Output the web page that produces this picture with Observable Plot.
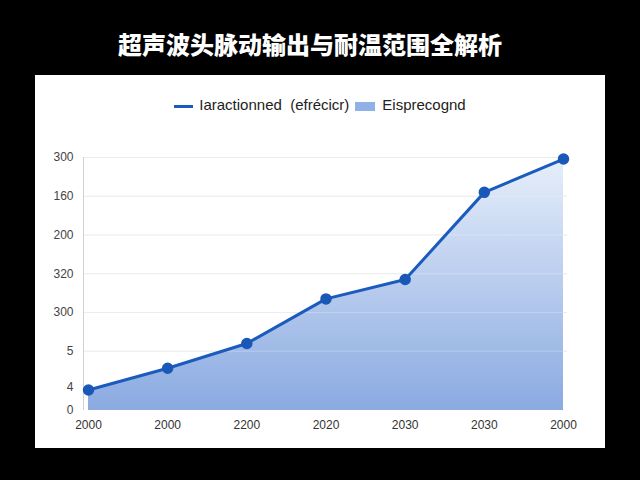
<!DOCTYPE html>
<html>
<head>
<meta charset="utf-8">
<script src="https://cdn.jsdelivr.net/npm/d3@7"></script>
<script src="https://cdn.jsdelivr.net/npm/@observablehq/plot@0.6"></script>
<style>
  html, body { margin: 0; padding: 0; background: #000; }
  #page { position: relative; width: 640px; height: 480px; background: #000; overflow: hidden; font-family: "Liberation Sans", "DejaVu Sans", sans-serif; }
  #title { position: absolute; left: -10px; top: 28px; width: 640px; text-align: center; color: #fff; font-family: "Noto Sans CJK SC", sans-serif; font-weight: 900; font-size: 24px; line-height: 32px; }
  #panel { position: absolute; left: 35px; top: 75px; width: 570px; height: 373px; background: #fff; }
  #legend { position: absolute; left: 0; top: 20px; width: 570px; text-align: center; font-size: 15px; color: #222; line-height: 20px; white-space: nowrap; }
  .sw-line { display: inline-block; width: 19px; height: 3px; background: #1b5bbd; vertical-align: middle; margin-right: 6px; }
  .sw-box { display: inline-block; width: 20px; height: 9px; background: #8fb1e6; vertical-align: middle; margin-left: 6px; margin-right: 7px; }
  #chart { position: absolute; left: 0; top: 60px; }
</style>
</head>
<body>
<div id="page">
  <div id="title"></div>
  <div id="panel">
    <div id="legend"></div>
    <div id="chart"></div>
  </div>
</div>
<script>
const title = "超声波头脉动输出与耐温范围全解析";
const seriesLineName = "Iaractionned\u00a0 (efrécicr)";
const seriesAreaName = "Eisprecognd";
const categories = ["2000", "2000", "2200", "2020", "2030", "2030", "2000"];
const values = [0.53, 1.09, 1.73, 2.88, 3.38, 5.63, 6.49];
const yTickValues = [0, 0.6, 1.53, 2.53, 3.53, 4.53, 5.53, 6.53];
const yTickLabels = ["0", "4", "5", "300", "320", "200", "160", "300"];
const gridValues = [1.53, 2.53, 3.53, 4.53, 5.53, 6.53];

document.getElementById("title").textContent = title;
document.getElementById("legend").innerHTML =
  `<span class="sw-line"></span><span>${seriesLineName}</span><span class="sw-box"></span><span>${seriesAreaName}</span>`;

const data = categories.map((c, i) => ({i, label: c, v: values[i]}));

const chart = Plot.plot({
  width: 570,
  height: 313,
  marginLeft: 48,
  marginRight: 38,
  marginTop: 22,
  marginBottom: 38,
  style: {background: "transparent", fontFamily: "Liberation Sans, DejaVu Sans, sans-serif", fontSize: "12px", color: "#444"},
  x: {type: "linear", domain: [0, 6], insetLeft: 5, insetRight: 4, label: null},
  y: {domain: [0, 6.53], label: null},
  marks: [
    Plot.ruleY(gridValues, {stroke: "#e6e6e6", strokeWidth: 1}),
    () => {
      const ns = "http://www.w3.org/2000/svg";
      const defs = document.createElementNS(ns, "defs");
      defs.innerHTML = `<linearGradient id="areaGrad" x1="0" y1="0" x2="0" y2="1">
        <stop offset="0%" stop-color="#e6eefa"/>
        <stop offset="100%" stop-color="#8aaae1"/>
      </linearGradient>`;
      return defs;
    },
    Plot.areaY(data, {x: "i", y: "v", fill: "url(#areaGrad)", fillOpacity: 1}),
    Plot.ruleY(gridValues, {stroke: "#ffffff", strokeOpacity: 0.25, strokeWidth: 1}),
    Plot.ruleX([0], {y1: 0, y2: 6.53, stroke: "#d0d0d0", strokeWidth: 1, dx: -5}),
    Plot.line(data, {x: "i", y: "v", stroke: "#1b5bbd", strokeWidth: 3}),
    Plot.dot(data, {x: "i", y: "v", r: 5, fill: "#1a58b8", stroke: "#1a58b8"}),
    Plot.axisY({ticks: yTickValues, tickFormat: (d, k) => yTickLabels[k], tickSize: 0, tickPadding: 10, fill: "#444", fontSize: 12, label: null}),
    Plot.axisX({ticks: categories.map((c, i) => i), tickFormat: (d) => categories[d], tickSize: 0, tickPadding: 10, fill: "#333", fontSize: 12, label: null})
  ]
});
document.getElementById("chart").appendChild(chart);
</script>
</body>
</html>
